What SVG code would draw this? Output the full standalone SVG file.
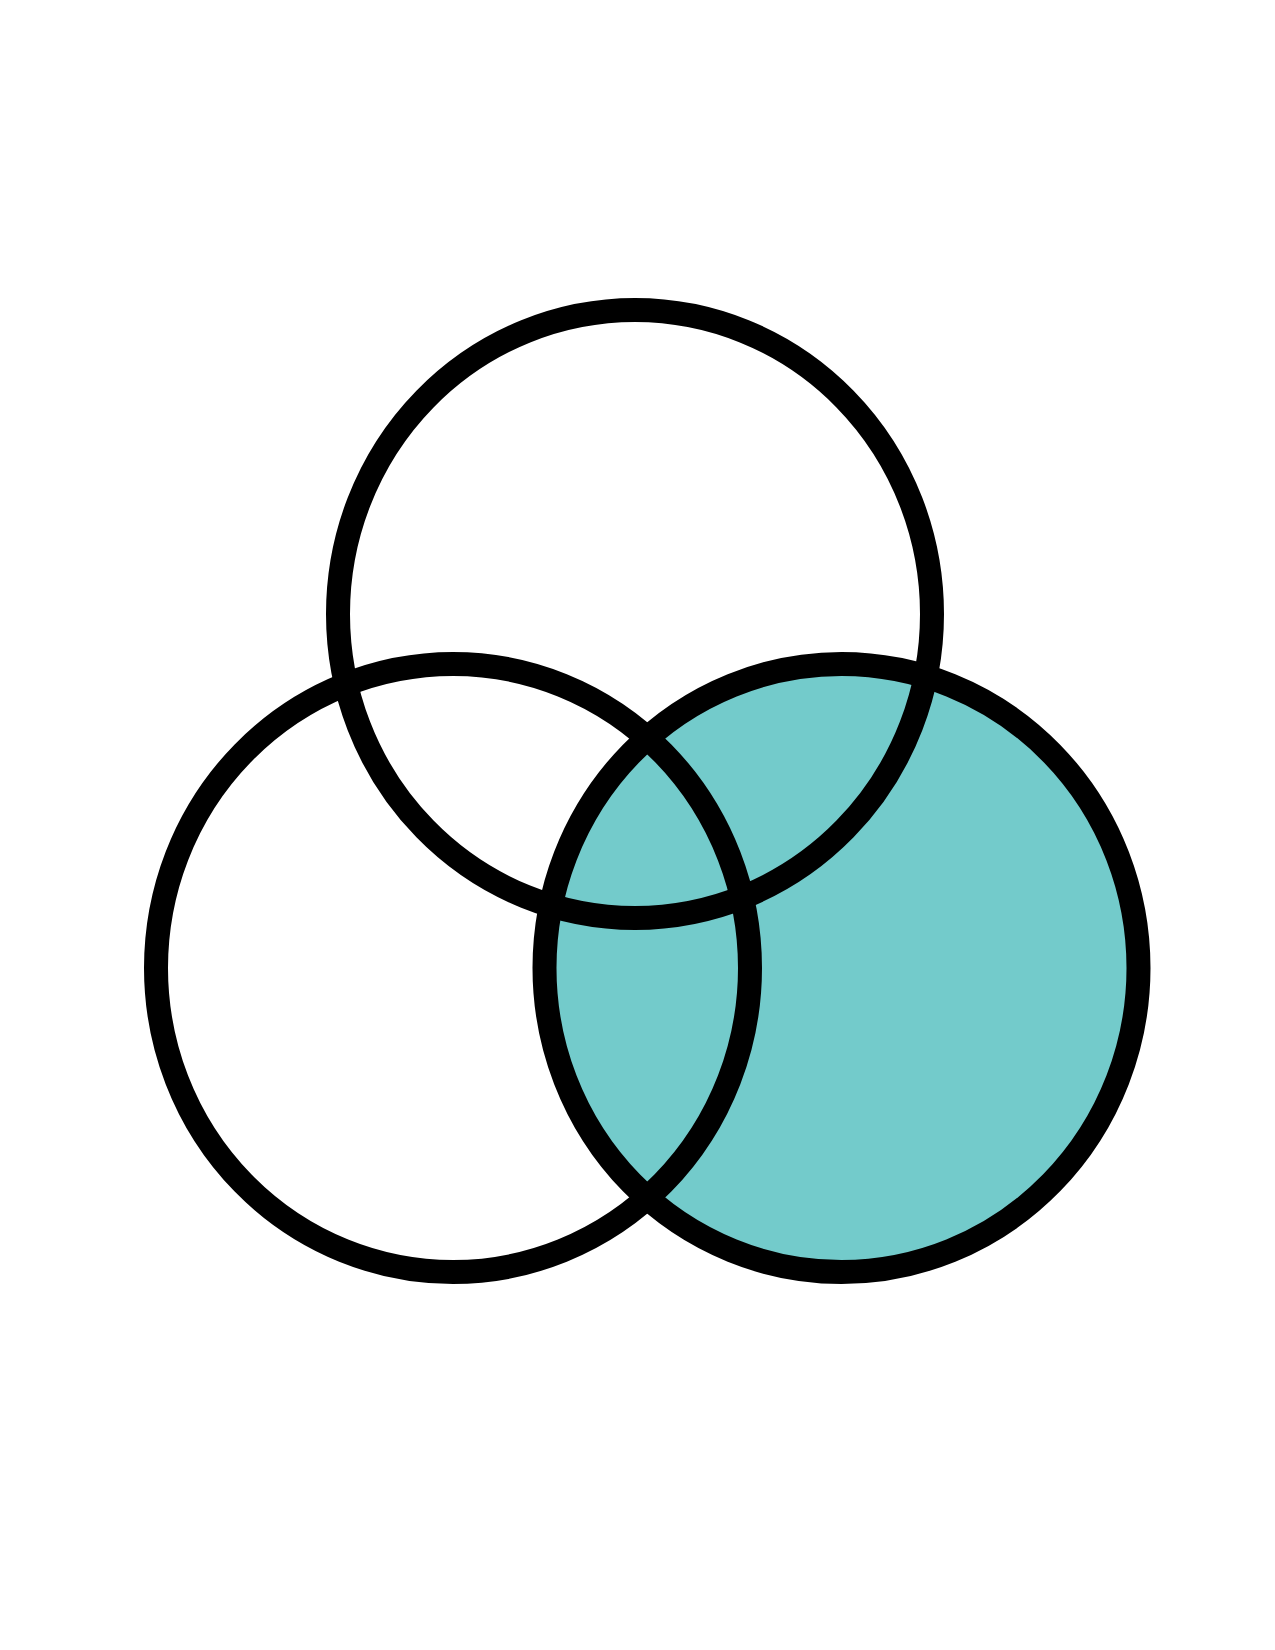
<svg xmlns="http://www.w3.org/2000/svg" width="1275" height="1650" viewBox="0 0 1275 1650">
<style>
.ring{fill:none;stroke:#000;stroke-width:24}
</style>
<rect width="1275" height="1650" fill="#fff"/>
<g id="fill-right"><ellipse cx="841.5" cy="968" rx="297" ry="304" fill="#73CBCB"/></g>
<g id="circle-top"><ellipse class="ring" cx="635" cy="614" rx="297" ry="304"/></g>
<g id="circle-left"><ellipse class="ring" cx="453" cy="968" rx="297" ry="304"/></g>
<g id="circle-right"><ellipse class="ring" cx="841.5" cy="968" rx="297" ry="304"/></g>
<g id="connectors"></g>
</svg>
